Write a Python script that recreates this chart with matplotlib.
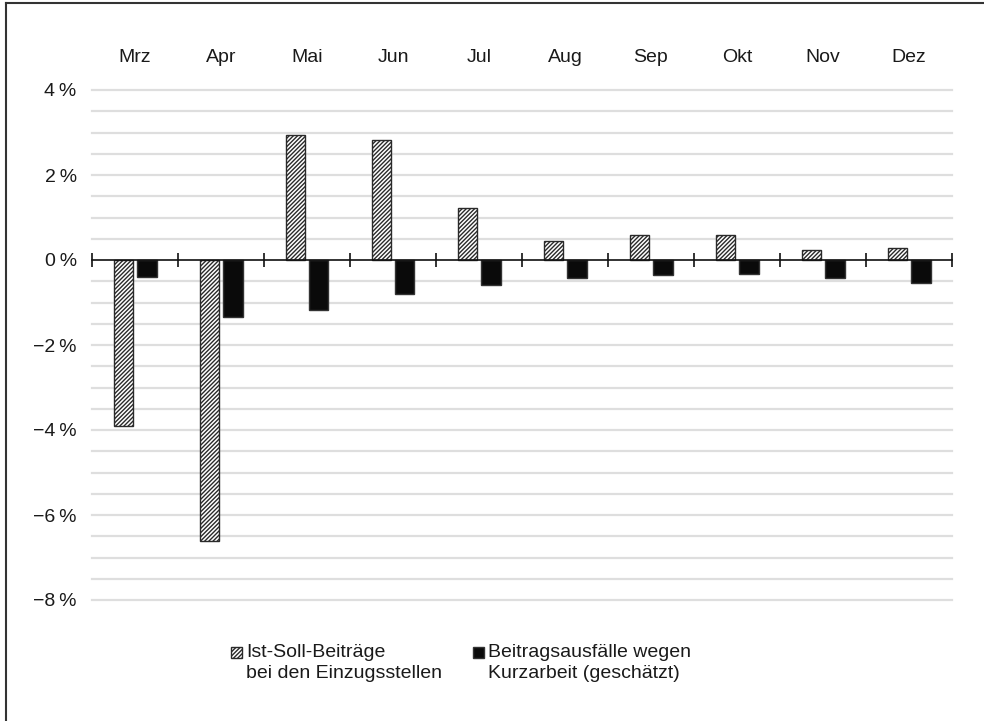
import numpy as np
import matplotlib.pyplot as plt
import matplotlib.transforms as mtransforms
from matplotlib.patches import Rectangle

plt.rcParams['font.family'] = ['Liberation Sans', 'DejaVu Sans']
plt.rcParams['hatch.linewidth'] = 1.0
plt.rcParams['hatch.color'] = '#1a1a1a'

months = ['Mrz', 'Apr', 'Mai', 'Jun', 'Jul', 'Aug', 'Sep', 'Okt', 'Nov', 'Dez']
ist_soll = [-3.9, -6.6, 2.93, 2.82, 1.22, 0.45, 0.59, 0.59, 0.23, 0.28]
kurzarbeit = [-0.4, -1.35, -1.18, -0.8, -0.58, -0.42, -0.36, -0.33, -0.42, -0.54]
label_ist = 'Ist-Soll-Beiträge\nbei den Einzugsstellen'
label_kurz = 'Beitragsausfälle wegen\nKurzarbeit (geschätzt)'

HATCH = '////////'
TXT = '#1a1a1a'
FS = 14

W, H = 984, 721
fig = plt.figure(figsize=(W / 100, H / 100), dpi=100)
ax = fig.add_axes([92/W, 1-600/H, 860/W, 510/H])

x = np.arange(len(months))
width = 0.23
ax.bar(x - 0.135, ist_soll, width, color='white', edgecolor='#2a2a2a',
       hatch=HATCH, linewidth=1.0, zorder=3)
ax.bar(x + 0.135, kurzarbeit, width, color='#0a0a0a', edgecolor='#333333',
       linewidth=1.0, zorder=3)

ax.set_xlim(-0.5, len(months) - 0.5)
ax.set_ylim(-8, 4)

# gridlines every 0.5 %
for g in np.arange(-8, 4.01, 0.5):
    if abs(g) < 1e-9:
        continue
    ax.axhline(g, color='#dedede', linewidth=1.6, zorder=1, clip_on=False)

# zero line with category ticks
ax.axhline(0, color='#111111', linewidth=1.2, zorder=4, clip_on=False)
bounds = np.arange(len(months) + 1) - 0.5
ax.vlines(bounds, -0.16, 0.16, color='#111111', linewidth=1.2, zorder=4,
          clip_on=False)

for s in ax.spines.values():
    s.set_visible(False)
ax.set_xticks([])
yt = np.arange(-8, 5, 2)
ax.set_yticks(yt)
ax.set_yticklabels([('\u2212%d\u2009%%' % -v) if v < 0 else ('%d\u2009%%' % v) for v in yt],
                   fontsize=FS, color=TXT)
ax.tick_params(axis='y', length=0, pad=11)

# month labels on top
trans = mtransforms.blended_transform_factory(ax.transData, fig.transFigure)
for i, m in enumerate(months):
    ax.text(i, 1 - 57/H, m, transform=trans, fontsize=FS, color=TXT,
            ha='center', va='center')

# legend, drawn by hand so the key sits on the first text line
def legend_entry(px, py, size, text, tx, **kw):
    fig.add_artist(Rectangle((px / W, 1 - (py + size) / H), size / W, size / H,
                             transform=fig.transFigure, linewidth=1.0, **kw))
    fig.text(tx / W, 1 - 644 / H, text, fontsize=FS, color=TXT, ha='left',
             va='top', linespacing=1.32)

legend_entry(231, 647, 11, label_ist, 246, facecolor='white',
             edgecolor='#2a2a2a', hatch=HATCH)
legend_entry(473, 647, 11, label_kurz, 488, facecolor='#0a0a0a',
             edgecolor='#333333')

# figure frame (left and top)
fig.add_artist(plt.Line2D([6/W, 6/W], [0, 1 - 3/H], transform=fig.transFigure,
                          color='#333333', linewidth=1.5))
fig.add_artist(plt.Line2D([6/W, 1], [1 - 3/H, 1 - 3/H], transform=fig.transFigure,
                          color='#333333', linewidth=1.5))

fig.savefig('out.png', dpi=100)
